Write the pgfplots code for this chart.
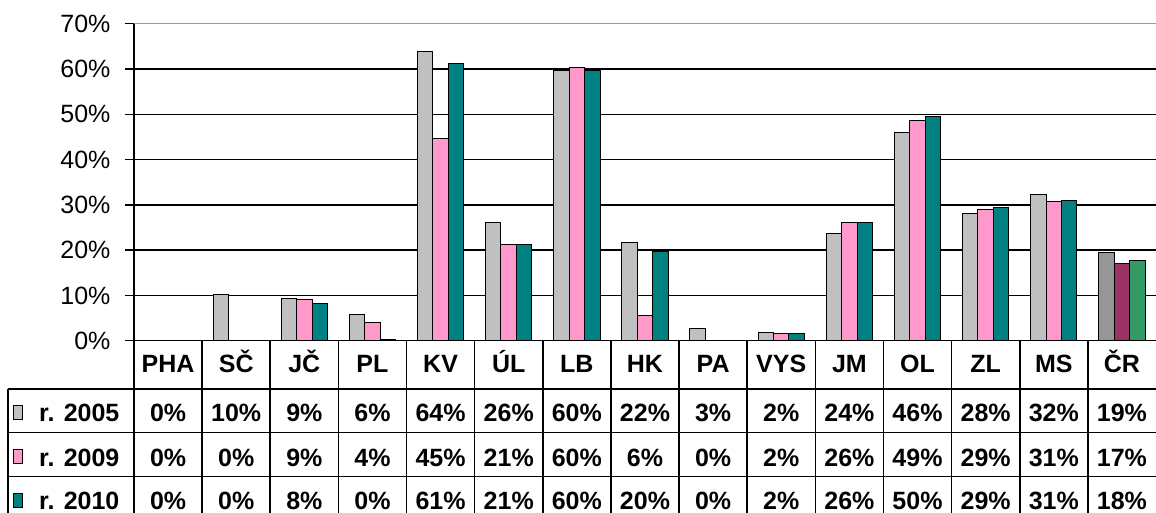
\documentclass[border=0pt]{standalone}
\usepackage{fontspec}
\setmainfont{Liberation Sans}
\usepackage{pgfplots}
\pgfplotsset{compat=1.18}
\definecolor{cA}{HTML}{C0C0C0}
\definecolor{cB}{HTML}{FF99CC}
\definecolor{cC}{HTML}{008080}
\definecolor{dA}{HTML}{969696}
\definecolor{dB}{HTML}{993366}
\definecolor{dC}{HTML}{339966}
\begin{document}
\fontsize{25}{29}\selectfont
\begin{tikzpicture}[x=1pt,y=1pt]
\path[use as bounding box] (0,0) rectangle (1156,513);
\begin{axis}[
  at={(134pt,172.3pt)}, anchor=south west,
  scale only axis, width=1022pt, height=317pt,
  xmin=-0.5, xmax=14.5, ymin=0, ymax=70,
  xtick=\empty,
  ytick={0,10,...,60},
  extra y ticks={70},
  extra y tick style={grid style={color=gray!80, line width=1.5pt}},
  yticklabel={\pgfmathprintnumber[assume math mode=true]{\tick}\%},
  yticklabel style={font=\fontsize{25}{29}\selectfont, xshift=-6pt},
  tick align=outside, major tick length=9pt,
  tick style={black, line width=1.5pt},
  axis x line=none,
  axis y line*=left,
  axis line style={black, line width=2pt},
  ymajorgrids, grid style={black, line width=1.5pt},
  clip=false,
]
\addplot[ybar, bar width=0.227, bar shift=-0.227, fill=cA, draw=black, line width=1pt] coordinates {
 (0,0) (1,10.3) (2,9.4) (3,5.7) (4,63.9) (5,26.1) (6,59.7) (7,21.6) (8,2.6) (9,1.9) (10,23.6) (11,46.0) (12,28.1) (13,32.2)};
\addplot[ybar, bar width=0.227, bar shift=0, fill=cB, draw=black, line width=1pt] coordinates {
 (0,0) (1,0) (2,9.2) (3,4.1) (4,44.6) (5,21.3) (6,60.4) (7,5.6) (8,0) (9,1.6) (10,26.2) (11,48.7) (12,28.9) (13,30.7)};
\addplot[ybar, bar width=0.227, bar shift=0.227, fill=cC, draw=black, line width=1pt] coordinates {
 (0,0) (1,0) (2,8.3) (3,0.3) (4,61.2) (5,21.3) (6,59.7) (7,19.8) (8,0) (9,1.5) (10,26.2) (11,49.5) (12,29.4) (13,31.0)};
\addplot[ybar, bar width=0.227, bar shift=-0.227, fill=dA, draw=black, line width=1pt] coordinates {(14,19.4)};
\addplot[ybar, bar width=0.227, bar shift=0, fill=dB, draw=black, line width=1pt] coordinates {(14,17.1)};
\addplot[ybar, bar width=0.227, bar shift=0.227, fill=dC, draw=black, line width=1pt] coordinates {(14,17.8)};
\end{axis}
% data table below the chart
\foreach \k in {0,...,14} \draw[line width=1.6pt] ({134+\k*68.13},0) -- ({134+\k*68.13},172.3);
\draw[line width=1.6pt] (8,124) -- (1156,124);
\draw[line width=1.6pt] (8,80.3) -- (1156,80.3);
\draw[line width=1.6pt] (8,36.3) -- (1156,36.3);
\draw[line width=1.6pt] (8,0) -- (8,124);
\foreach \n [count=\i from 0] in {PHA,SČ,JČ,PL,KV,ÚL,LB,HK,PA,VYS,JM,OL,ZL,MS,ČR}
  \node[font=\bfseries, anchor=base, inner sep=0] at ({134+(\i+0.5)*68.13},140.2) {\n};
\foreach \n [count=\i from 0] in {0,10,9,6,64,26,60,22,3,2,24,46,28,32,19}
  \node[font=\bfseries, anchor=base, inner sep=0] at ({134+(\i+0.5)*68.13},91.2) {\n\%};
\foreach \n [count=\i from 0] in {0,0,9,4,45,21,60,6,0,2,26,49,29,31,17}
  \node[font=\bfseries, anchor=base, inner sep=0] at ({134+(\i+0.5)*68.13},46.7) {\n\%};
\foreach \n [count=\i from 0] in {0,0,8,0,61,21,60,20,0,2,26,50,29,31,18}
  \node[font=\bfseries, anchor=base, inner sep=0] at ({134+(\i+0.5)*68.13},3.6) {\n\%};
\filldraw[fill=cA, draw=black, line width=1pt] (13,93.7) rectangle (22.7,107);
\filldraw[fill=cB, draw=black, line width=1pt] (13,49.7) rectangle (22.7,63);
\filldraw[fill=cC, draw=black, line width=1pt] (13,5.7) rectangle (22.7,19);
\node[font=\bfseries, anchor=base west, inner sep=0] at (39,91.2) {r. 2005};
\node[font=\bfseries, anchor=base west, inner sep=0] at (39,46.7) {r. 2009};
\node[font=\bfseries, anchor=base west, inner sep=0] at (39,3.6) {r. 2010};
\end{tikzpicture}
\end{document}
